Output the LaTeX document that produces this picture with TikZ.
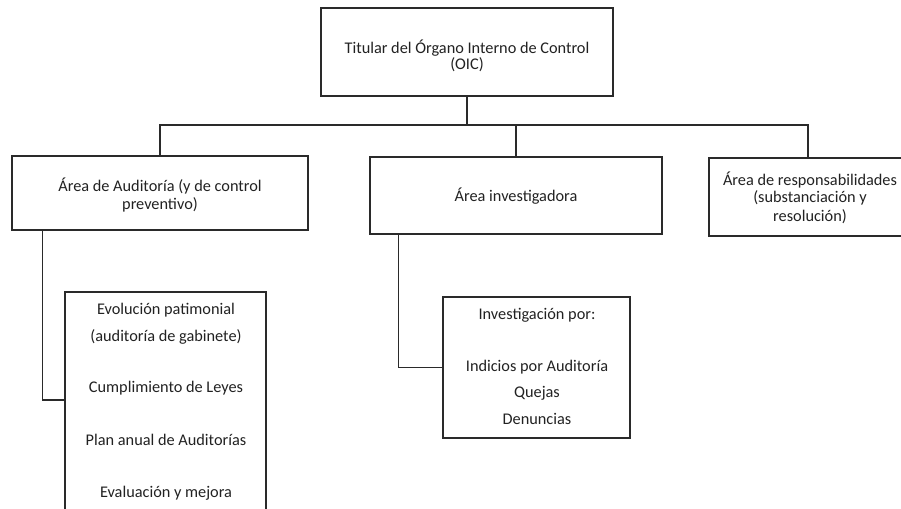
\documentclass[tikz,border=0pt]{standalone}
\usepackage{fontspec}
\setmainfont{Carlito}
\definecolor{ink}{HTML}{222222}
\definecolor{edge}{HTML}{2A2A2A}
\begin{document}
\begin{tikzpicture}[x=1pt,y=-1pt,
  box/.style={draw=edge,line width=1.4pt,minimum width=#1,inner sep=0pt},
  lbl/.style={text=ink,inner sep=0pt,font=\fontsize{16.3}{19}\selectfont,anchor=center},
  link/.style={draw=edge,line width=1.1pt}]
\useasboundingbox (0,0) rectangle (901,508);
\clip (0,0) rectangle (901,508);
\fill[white] (0,0) rectangle (901,508);
% boxes
\node[box=292pt,minimum height=88pt] (top) at (467,52) {};
\node[box=296pt,minimum height=74pt] (a1) at (160,193) {};
\node[box=292pt,minimum height=77pt] (a2) at (516,195.5) {};
\node[box=198pt,minimum height=78pt] (a3) at (808,197) {};
\node[box=201pt,minimum height=222pt] (b1) at (165.5,403) {};
\node[box=187pt,minimum height=141pt] (b2) at (536.5,367.5) {};
% texts
\node[lbl] (t1) at (467,48) {Titular del Órgano Interno de Control};
\node[lbl] (t2) at (467,65) {(OIC)};
\node[lbl] (a1t1) at (160,186) {Área de Auditoría (y de control};
\node[lbl] (a1t2) at (160,205) {preventivo)};
\node[lbl] (a2t1) at (516,196) {Área investigadora};
\node[lbl] (a3t1) at (810,180) {Área de responsabilidades};
\node[lbl] (a3t2) at (810,198) {(substanciación y};
\node[lbl] (a3t3) at (810,217) {resolución)};
\node[lbl] (b1t1) at (166,310) {Evolución patimonial};
\node[lbl] (b1t2) at (166,337) {(auditoría de gabinete)};
\node[lbl] (b1t3) at (166,388) {Cumplimiento de Leyes};
\node[lbl] (b1t4) at (166,440) {Plan anual de Auditorías};
\node[lbl] (b1t5) at (166,493) {Evaluación y mejora};
\node[lbl] (b2t1) at (537,315) {Investigación por:};
\node[lbl] (b2t2) at (537,367) {Indicios por Auditoría};
\node[lbl] (b2t3) at (537,393) {Quejas};
\node[lbl] (b2t4) at (537,419) {Denuncias};
% connectors
\coordinate (bus) at (0,125);
\coordinate (j1) at (65,400);
\draw[link] (top.south) -- (top.south |- bus);
\draw[link] (a1.north) |- (a3.north |- bus) -- (a3.north);
\draw[link] (a2.north) -- (a2.north |- bus);
\draw[link] ([xshift=31pt]a1.south west) |- (j1);
\draw[link] ([xshift=29pt]a2.south west) |- (b2.west);
\end{tikzpicture}
\end{document}
